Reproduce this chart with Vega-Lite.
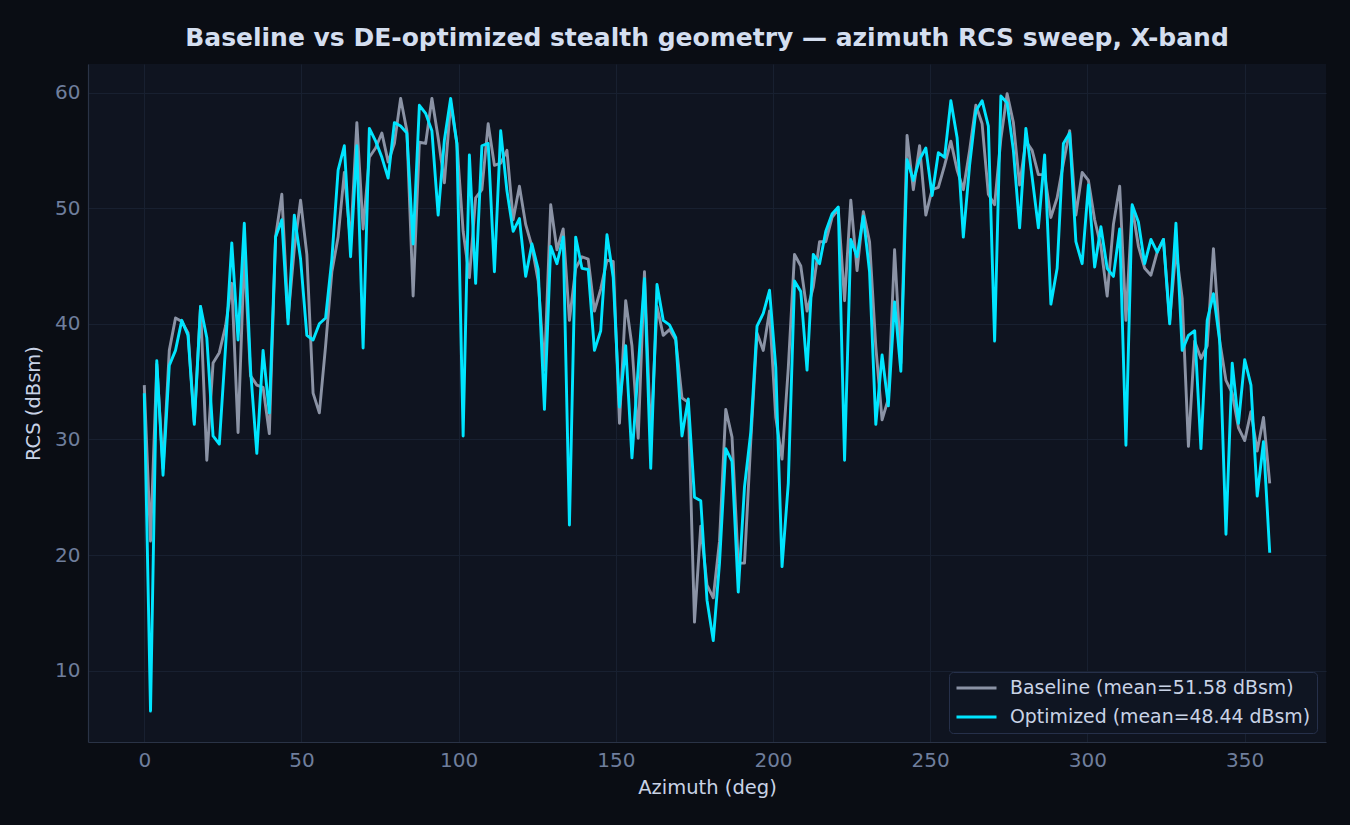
{
  "$schema": "https://vega.github.io/schema/vega-lite/v6.json",
  "width": 1238,
  "height": 678,
  "autosize": {"type": "none"},
  "padding": {"left": 88, "top": 64, "right": 24, "bottom": 83},
  "background": "#0a0d14",
  "title": {
    "text": "Baseline vs DE-optimized stealth geometry — azimuth RCS sweep, X-band",
    "font": "DejaVu Sans",
    "fontSize": 25,
    "fontWeight": "bold",
    "color": "#d4deef",
    "anchor": "middle",
    "offset": 13
  },
  "data": {
    "values": [
      {"az": 0, "baseline": 34.7, "optimized": 34.0},
      {"az": 1.99, "baseline": 21.2, "optimized": 6.5},
      {"az": 3.98, "baseline": 36.5, "optimized": 36.8},
      {"az": 5.97, "baseline": 27.5, "optimized": 26.9},
      {"az": 7.96, "baseline": 37.7, "optimized": 36.4},
      {"az": 9.94, "baseline": 40.5, "optimized": 37.7},
      {"az": 11.93, "baseline": 40.2, "optimized": 40.3},
      {"az": 13.92, "baseline": 39.2, "optimized": 39.0},
      {"az": 15.91, "baseline": 31.5, "optimized": 31.3},
      {"az": 17.9, "baseline": 41.5, "optimized": 41.5},
      {"az": 19.89, "baseline": 28.2, "optimized": 38.8},
      {"az": 21.88, "baseline": 36.6, "optimized": 30.3},
      {"az": 23.87, "baseline": 37.5, "optimized": 29.6},
      {"az": 25.86, "baseline": 39.8, "optimized": 38.0},
      {"az": 27.84, "baseline": 43.5, "optimized": 47.0},
      {"az": 29.83, "baseline": 30.6, "optimized": 38.6},
      {"az": 31.82, "baseline": 46.0, "optimized": 48.7},
      {"az": 33.81, "baseline": 35.5, "optimized": 36.0},
      {"az": 35.8, "baseline": 34.7, "optimized": 28.8},
      {"az": 37.79, "baseline": 34.5, "optimized": 37.7},
      {"az": 39.78, "baseline": 30.5, "optimized": 32.3},
      {"az": 41.77, "baseline": 47.5, "optimized": 47.5},
      {"az": 43.76, "baseline": 51.2, "optimized": 49.0},
      {"az": 45.74, "baseline": 40.5, "optimized": 40.0},
      {"az": 47.73, "baseline": 46.5, "optimized": 49.4},
      {"az": 49.72, "baseline": 50.7, "optimized": 45.6},
      {"az": 51.71, "baseline": 46.0, "optimized": 39.0},
      {"az": 53.7, "baseline": 34.0, "optimized": 38.6},
      {"az": 55.69, "baseline": 32.3, "optimized": 40.0},
      {"az": 57.68, "baseline": 38.1, "optimized": 40.5},
      {"az": 59.67, "baseline": 44.5, "optimized": 45.6},
      {"az": 61.66, "baseline": 47.5, "optimized": 53.3},
      {"az": 63.64, "baseline": 53.1, "optimized": 55.4},
      {"az": 65.63, "baseline": 47.0, "optimized": 45.8},
      {"az": 67.62, "baseline": 57.4, "optimized": 55.4},
      {"az": 69.61, "baseline": 48.2, "optimized": 37.9},
      {"az": 71.6, "baseline": 54.4, "optimized": 56.9},
      {"az": 73.59, "baseline": 55.2, "optimized": 55.8},
      {"az": 75.58, "baseline": 56.5, "optimized": 54.4},
      {"az": 77.57, "baseline": 54.0, "optimized": 52.6},
      {"az": 79.56, "baseline": 55.6, "optimized": 57.4},
      {"az": 81.54, "baseline": 59.5, "optimized": 57.1},
      {"az": 83.53, "baseline": 56.7, "optimized": 56.5},
      {"az": 85.52, "baseline": 42.4, "optimized": 46.9},
      {"az": 87.51, "baseline": 55.7, "optimized": 58.9},
      {"az": 89.5, "baseline": 55.6, "optimized": 58.2},
      {"az": 91.49, "baseline": 59.5, "optimized": 56.7},
      {"az": 93.48, "baseline": 56.1, "optimized": 49.4},
      {"az": 95.47, "baseline": 52.2, "optimized": 55.9},
      {"az": 97.46, "baseline": 59.1, "optimized": 59.5},
      {"az": 99.44, "baseline": 55.6, "optimized": 55.6},
      {"az": 101.43, "baseline": 48.0, "optimized": 30.3},
      {"az": 103.42, "baseline": 44.0, "optimized": 54.6},
      {"az": 105.41, "baseline": 50.9, "optimized": 43.5},
      {"az": 107.4, "baseline": 51.6, "optimized": 55.4},
      {"az": 109.39, "baseline": 57.3, "optimized": 55.6},
      {"az": 111.38, "baseline": 53.7, "optimized": 44.5},
      {"az": 113.37, "baseline": 53.9, "optimized": 56.7},
      {"az": 115.36, "baseline": 55.0, "optimized": 51.5},
      {"az": 117.34, "baseline": 49.0, "optimized": 48.0},
      {"az": 119.33, "baseline": 51.9, "optimized": 49.1},
      {"az": 121.32, "baseline": 48.6, "optimized": 44.1},
      {"az": 123.31, "baseline": 46.7, "optimized": 46.9},
      {"az": 125.3, "baseline": 43.7, "optimized": 44.7},
      {"az": 127.29, "baseline": 36.0, "optimized": 32.6},
      {"az": 129.28, "baseline": 50.3, "optimized": 46.7},
      {"az": 131.27, "baseline": 46.4, "optimized": 45.2},
      {"az": 133.26, "baseline": 48.2, "optimized": 47.5},
      {"az": 135.24, "baseline": 40.3, "optimized": 22.6},
      {"az": 137.23, "baseline": 44.8, "optimized": 47.5},
      {"az": 139.22, "baseline": 45.8, "optimized": 44.8},
      {"az": 141.21, "baseline": 45.6, "optimized": 44.7},
      {"az": 143.2, "baseline": 41.1, "optimized": 37.7},
      {"az": 145.19, "baseline": 43.0, "optimized": 39.4},
      {"az": 147.18, "baseline": 45.5, "optimized": 47.7},
      {"az": 149.17, "baseline": 45.4, "optimized": 44.0},
      {"az": 151.16, "baseline": 31.4, "optimized": 32.8},
      {"az": 153.14, "baseline": 42.0, "optimized": 38.1},
      {"az": 155.13, "baseline": 38.1, "optimized": 28.4},
      {"az": 157.12, "baseline": 30.1, "optimized": 36.2},
      {"az": 159.11, "baseline": 44.5, "optimized": 43.9},
      {"az": 161.1, "baseline": 30.0, "optimized": 27.5},
      {"az": 163.09, "baseline": 41.5, "optimized": 43.4},
      {"az": 165.08, "baseline": 39.0, "optimized": 40.3},
      {"az": 167.07, "baseline": 39.5, "optimized": 39.9},
      {"az": 169.06, "baseline": 38.6, "optimized": 38.8},
      {"az": 171.04, "baseline": 33.6, "optimized": 30.3},
      {"az": 173.03, "baseline": 33.2, "optimized": 33.5},
      {"az": 175.02, "baseline": 14.2, "optimized": 25.0},
      {"az": 177.01, "baseline": 22.5, "optimized": 24.7},
      {"az": 179, "baseline": 17.4, "optimized": 16.1},
      {"az": 180.99, "baseline": 16.3, "optimized": 12.6},
      {"az": 182.98, "baseline": 21.2, "optimized": 19.3},
      {"az": 184.97, "baseline": 32.6, "optimized": 29.2},
      {"az": 186.96, "baseline": 30.2, "optimized": 28.1},
      {"az": 188.94, "baseline": 19.3, "optimized": 16.8},
      {"az": 190.93, "baseline": 19.3, "optimized": 25.9},
      {"az": 192.92, "baseline": 29.8, "optimized": 30.6},
      {"az": 194.91, "baseline": 39.2, "optimized": 39.8},
      {"az": 196.9, "baseline": 37.7, "optimized": 40.9},
      {"az": 198.89, "baseline": 41.1, "optimized": 42.9},
      {"az": 200.88, "baseline": 31.9, "optimized": 36.2},
      {"az": 202.87, "baseline": 28.3, "optimized": 19.0},
      {"az": 204.86, "baseline": 36.2, "optimized": 26.2},
      {"az": 206.84, "baseline": 46.0, "optimized": 43.7},
      {"az": 208.83, "baseline": 45.0, "optimized": 42.8},
      {"az": 210.82, "baseline": 41.1, "optimized": 36.0},
      {"az": 212.81, "baseline": 43.2, "optimized": 46.0},
      {"az": 214.8, "baseline": 47.1, "optimized": 45.2},
      {"az": 216.79, "baseline": 47.1, "optimized": 48.0},
      {"az": 218.78, "baseline": 49.2, "optimized": 49.5},
      {"az": 220.77, "baseline": 49.9, "optimized": 50.1},
      {"az": 222.76, "baseline": 42.0, "optimized": 28.2},
      {"az": 224.74, "baseline": 50.7, "optimized": 47.3},
      {"az": 226.73, "baseline": 44.6, "optimized": 45.8},
      {"az": 228.72, "baseline": 49.7, "optimized": 49.3},
      {"az": 230.71, "baseline": 47.1, "optimized": 44.5},
      {"az": 232.7, "baseline": 38.0, "optimized": 31.3},
      {"az": 234.69, "baseline": 31.7, "optimized": 37.3},
      {"az": 236.68, "baseline": 33.5, "optimized": 32.9},
      {"az": 238.67, "baseline": 46.4, "optimized": 41.9},
      {"az": 240.66, "baseline": 36.6, "optimized": 35.9},
      {"az": 242.64, "baseline": 56.3, "optimized": 54.2},
      {"az": 244.63, "baseline": 51.6, "optimized": 52.4},
      {"az": 246.62, "baseline": 55.4, "optimized": 54.2},
      {"az": 248.61, "baseline": 49.4, "optimized": 55.2},
      {"az": 250.6, "baseline": 51.6, "optimized": 51.1},
      {"az": 252.59, "baseline": 51.8, "optimized": 54.8},
      {"az": 254.58, "baseline": 53.7, "optimized": 54.4},
      {"az": 256.57, "baseline": 55.8, "optimized": 59.3},
      {"az": 258.56, "baseline": 53.3, "optimized": 56.1},
      {"az": 260.54, "baseline": 51.6, "optimized": 47.5},
      {"az": 262.53, "baseline": 55.0, "optimized": 53.7},
      {"az": 264.52, "baseline": 58.9, "optimized": 58.4},
      {"az": 266.51, "baseline": 57.3, "optimized": 59.3},
      {"az": 268.5, "baseline": 51.2, "optimized": 57.1},
      {"az": 270.49, "baseline": 50.3, "optimized": 38.5},
      {"az": 272.48, "baseline": 56.0, "optimized": 59.7},
      {"az": 274.47, "baseline": 59.9, "optimized": 59.1},
      {"az": 276.46, "baseline": 57.4, "optimized": 55.0},
      {"az": 278.44, "baseline": 52.0, "optimized": 48.3},
      {"az": 280.43, "baseline": 55.8, "optimized": 56.9},
      {"az": 282.42, "baseline": 55.0, "optimized": 52.7},
      {"az": 284.41, "baseline": 52.9, "optimized": 48.3},
      {"az": 286.4, "baseline": 52.9, "optimized": 54.6},
      {"az": 288.39, "baseline": 49.2, "optimized": 41.7},
      {"az": 290.38, "baseline": 50.9, "optimized": 44.8},
      {"az": 292.37, "baseline": 53.9, "optimized": 55.6},
      {"az": 294.36, "baseline": 56.7, "optimized": 56.5},
      {"az": 296.34, "baseline": 49.4, "optimized": 47.1},
      {"az": 298.33, "baseline": 53.1, "optimized": 45.2},
      {"az": 300.32, "baseline": 52.4, "optimized": 52.0},
      {"az": 302.31, "baseline": 49.0, "optimized": 44.9},
      {"az": 304.3, "baseline": 46.7, "optimized": 48.4},
      {"az": 306.29, "baseline": 42.4, "optimized": 44.8},
      {"az": 308.28, "baseline": 48.6, "optimized": 44.1},
      {"az": 310.27, "baseline": 51.9, "optimized": 48.2},
      {"az": 312.26, "baseline": 40.3, "optimized": 29.5},
      {"az": 314.24, "baseline": 50.1, "optimized": 50.3},
      {"az": 316.23, "baseline": 46.7, "optimized": 48.8},
      {"az": 318.22, "baseline": 44.8, "optimized": 45.2},
      {"az": 320.21, "baseline": 44.2, "optimized": 47.3},
      {"az": 322.2, "baseline": 46.2, "optimized": 46.2},
      {"az": 324.19, "baseline": 47.3, "optimized": 47.3},
      {"az": 326.18, "baseline": 40.3, "optimized": 40.0},
      {"az": 328.17, "baseline": 46.4, "optimized": 48.7},
      {"az": 330.16, "baseline": 42.2, "optimized": 37.7},
      {"az": 332.14, "baseline": 29.4, "optimized": 39.0},
      {"az": 334.13, "baseline": 38.5, "optimized": 39.4},
      {"az": 336.12, "baseline": 37.0, "optimized": 29.2},
      {"az": 338.11, "baseline": 38.1, "optimized": 40.3},
      {"az": 340.1, "baseline": 46.5, "optimized": 42.6},
      {"az": 342.09, "baseline": 38.5, "optimized": 38.5},
      {"az": 344.08, "baseline": 35.1, "optimized": 21.8},
      {"az": 346.07, "baseline": 34.0, "optimized": 36.6},
      {"az": 348.06, "baseline": 31.0, "optimized": 31.4},
      {"az": 350.04, "baseline": 29.9, "optimized": 36.9},
      {"az": 352.03, "baseline": 32.4, "optimized": 34.7},
      {"az": 354.02, "baseline": 29.0, "optimized": 25.1},
      {"az": 356.01, "baseline": 31.9, "optimized": 29.8},
      {"az": 358, "baseline": 26.2, "optimized": 20.2}
    ]
  },
  "transform": [{"fold": ["baseline", "optimized"], "as": ["series", "rcs"]}],
  "mark": {"type": "line", "strokeWidth": 2.9, "strokeJoin": "round", "clip": true},
  "encoding": {
    "x": {
      "field": "az",
      "type": "quantitative",
      "scale": {"domain": [-17.9, 375.9], "nice": false, "zero": false},
      "axis": {"values": [0, 50, 100, 150, 200, 250, 300, 350], "title": "Azimuth (deg)", "titlePadding": 8}
    },
    "y": {
      "field": "rcs",
      "type": "quantitative",
      "scale": {"domain": [3.83, 62.47], "nice": false, "zero": false},
      "axis": {"values": [10, 20, 30, 40, 50, 60], "title": "RCS (dBsm)", "titlePadding": 11}
    },
    "color": {
      "field": "series",
      "type": "nominal",
      "scale": {"domain": ["baseline", "optimized"], "range": ["#8b93a5", "#00e5ff"]},
      "legend": {
        "title": null,
        "orient": "bottom-right",
        "offset": 9,
        "labelExpr": "datum.value == 'baseline' ? 'Baseline (mean=51.58 dBsm)' : 'Optimized (mean=48.44 dBsm)'",
        "symbolType": "stroke",
        "symbolSize": 1600,
        "symbolStrokeWidth": 3,
        "clipHeight": 20,
        "labelFont": "DejaVu Sans",
        "labelFontSize": 18.9,
        "labelColor": "#c9d3e6",
        "labelLimit": 400,
        "labelOffset": 12,
        "rowPadding": 9,
        "padding": 6,
        "fillColor": "#0f1522",
        "strokeColor": "#26304a",
        "cornerRadius": 4
      }
    }
  },
  "config": {
    "view": {"fill": "#0f1420", "stroke": null},
    "axis": {
      "domainColor": "#2a3346",
      "domainWidth": 1.2,
      "gridColor": "#182030",
      "gridWidth": 1,
      "ticks": false,
      "labelPadding": 8,
      "labelColor": "#6f7e9c",
      "labelFont": "DejaVu Sans",
      "labelFontSize": 20,
      "titleColor": "#c9d3e6",
      "titleFont": "DejaVu Sans",
      "titleFontSize": 19.5,
      "titleFontWeight": "normal"
    }
  }
}
